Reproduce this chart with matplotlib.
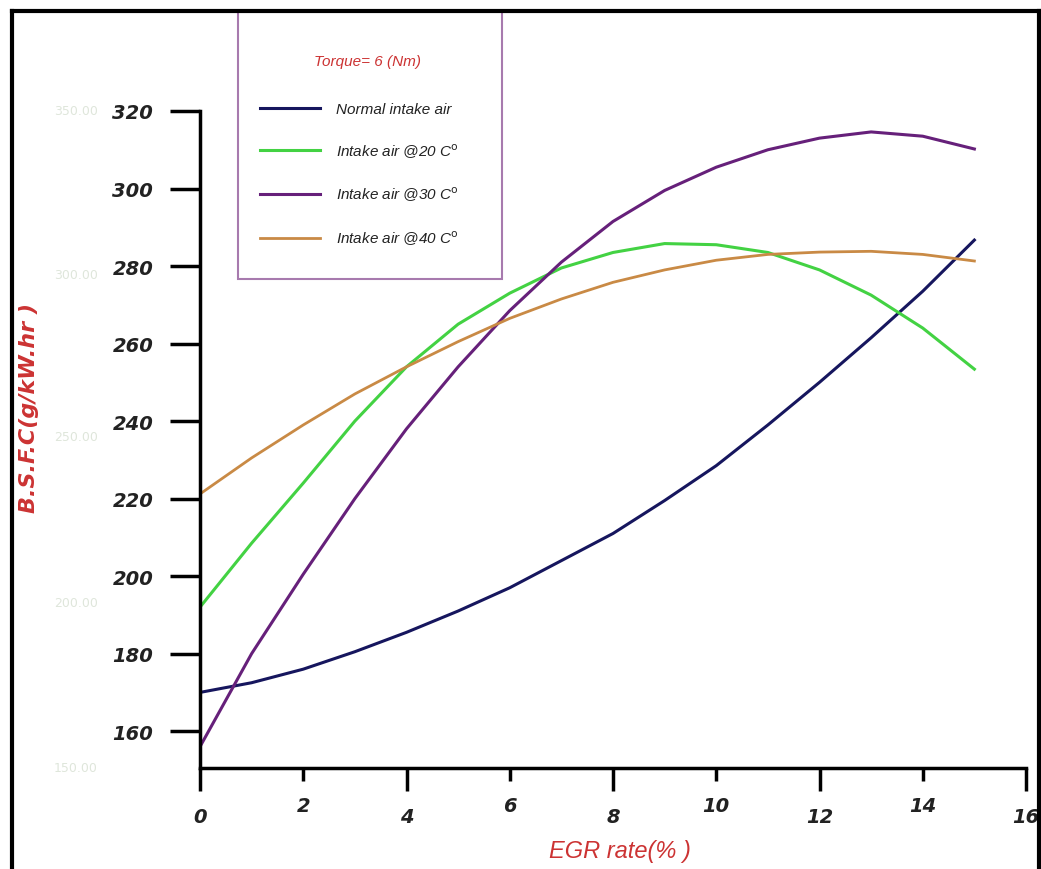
import numpy as np
import matplotlib
matplotlib.use("Agg")
import matplotlib.pyplot as plt
from matplotlib.lines import Line2D
from matplotlib.patches import Rectangle
from matplotlib.transforms import blended_transform_factory

# ---------------------------------------------------------------
# Data (B.S.F.C vs EGR rate, 6 Nm)
# ---------------------------------------------------------------
egr_rate = [0, 1, 2, 3, 4, 5, 6, 7, 8, 9, 10, 11, 12, 13, 14, 15]

bsfc_normal = [170.0, 172.5, 176.0, 180.5, 185.5, 191.0, 197.0, 204.0,
               211.0, 219.5, 228.5, 239.0, 250.0, 261.5, 273.5, 286.7]
bsfc_20c = [192.0, 208.5, 224.0, 240.0, 254.0, 265.0, 273.0, 279.5,
            283.5, 285.8, 285.5, 283.5, 279.0, 272.5, 264.0, 253.4]
bsfc_30c = [156.0, 180.0, 200.5, 220.0, 238.0, 254.0, 268.5, 281.0,
            291.5, 299.5, 305.5, 310.0, 313.0, 314.6, 313.5, 310.2]
bsfc_40c = [221.2, 230.5, 239.0, 247.0, 254.0, 260.5, 266.5, 271.5,
            275.8, 279.0, 281.5, 283.0, 283.6, 283.8, 283.0, 281.3]

series_labels = [
    "Normal intake air",
    r"Intake air @20 C$^{\mathrm{o}}$",
    r"Intake air @30 C$^{\mathrm{o}}$",
    r"Intake air @40 C$^{\mathrm{o}}$",
]
legend_title = "Torque= 6 (Nm)"

x_major_ticks = [0, 4, 8, 12, 16]
x_minor_ticks = [2, 6, 10, 14]
y_ticks = [160, 180, 200, 220, 240, 260, 280, 300, 320]

# faint leftover labels of an older axis (value, position on this axis)
ghost_labels = ["350.00", "300.00", "250.00", "200.00", "150.00"]
ghost_y = [320.0, 277.9, 236.1, 193.3, 150.7]

# ---------------------------------------------------------------
# Style
# ---------------------------------------------------------------
c_normal = "#16165e"
c_20 = "#43d243"
c_30 = "#66207a"
c_40 = "#c98a45"
c_red = "#cc3333"
c_frame = "#a77aae"

W, H = 1041, 870


def fx(px):
    return px / W


def fy(py):
    return 1 - py / H


fig = plt.figure(figsize=(10.41, 8.7), dpi=100)
fig.patch.set_facecolor("white")

ax = fig.add_axes([fx(200), fy(769), fx(1026) - fx(200), fy(112) - fy(769)])

ax.plot(egr_rate, bsfc_normal, color=c_normal, lw=2.2, label=series_labels[0])
ax.plot(egr_rate, bsfc_20c, color=c_20, lw=2.2, label=series_labels[1])
ax.plot(egr_rate, bsfc_30c, color=c_30, lw=2.2, label=series_labels[2])
ax.plot(egr_rate, bsfc_40c, color=c_40, lw=2.0, label=series_labels[3])

ax.set_xlim(0, 16)
ax.set_ylim(150.5, 320)

for s in ["top", "right"]:
    ax.spines[s].set_visible(False)
for s in ["left", "bottom"]:
    ax.spines[s].set_linewidth(2.5)

tick_font = dict(family="DejaVu Sans", weight="bold", style="oblique", size=14)

ax.set_yticks(y_ticks)
ax.set_yticklabels([str(v) for v in y_ticks], fontdict=tick_font, color="#222222")
ax.tick_params(axis="y", direction="out", length=21.6, width=2.5, pad=12)

ax.set_xticks(x_major_ticks)
ax.set_xticklabels([str(v) for v in x_major_ticks], fontdict=tick_font, color="#222222")
ax.set_xticks(x_minor_ticks, minor=True)
ax.set_xticklabels([str(v) for v in x_minor_ticks], minor=True, fontdict=tick_font,
                   color="#222222")
ax.tick_params(axis="x", which="major", direction="out", length=16.5, width=2.5, pad=11.5)
ax.tick_params(axis="x", which="minor", direction="out", length=9.4, width=2.5, pad=10.5)

ax.set_xlabel("EGR rate(% )", color=c_red, fontsize=17, style="italic",
              family="Liberation Sans")
ax.xaxis.set_label_coords(0.508, -0.108)
ax.set_ylabel("B.S.F.C(g/kW.hr )", color=c_red, fontsize=16, weight="bold",
              style="oblique", family="DejaVu Sans")
ax.yaxis.set_label_coords(-0.195, 0.55)

# ghost labels, kept left of the real tick labels
gtrans = blended_transform_factory(ax.transAxes, ax.transData)
for lab, yv in zip(ghost_labels, ghost_y):
    ax.text(-0.15, yv, lab, transform=gtrans, ha="center", va="center",
            fontsize=9, color="#dfe6db", clip_on=False, zorder=0)

# legend (frame drawn separately so the box matches the reference)
leg = ax.legend(loc="upper left", bbox_to_anchor=(fx(260), fy(103)),
                bbox_transform=fig.transFigure, frameon=False, borderpad=0,
                borderaxespad=0, handlelength=3.9, handletextpad=1.1,
                labelspacing=1.65,
                prop=dict(family="Liberation Sans", style="italic", size=11))
for t in leg.get_texts():
    t.set_color("#222222")
fig.add_artist(Rectangle((fx(238), fy(280)), fx(502) - fx(238), fy(12) - fy(280),
                         transform=fig.transFigure, fill=False, edgecolor=c_frame,
                         linewidth=1.5))
fig.text(fx(367), fy(62), legend_title, color=c_red, fontsize=11, style="italic",
         family="Liberation Sans", ha="center", va="center")

# outer black border (top, left, right)
for xs, ys in [([fx(12), fx(1039)], [fy(11.5), fy(11.5)]),
               ([fx(12), fx(12)], [fy(11.5), 0]),
               ([fx(1039), fx(1039)], [fy(11.5), 0])]:
    fig.add_artist(Line2D(xs, ys, transform=fig.transFigure, color="black",
                          linewidth=3.0, zorder=10))

fig.savefig("out.png", dpi=100)
